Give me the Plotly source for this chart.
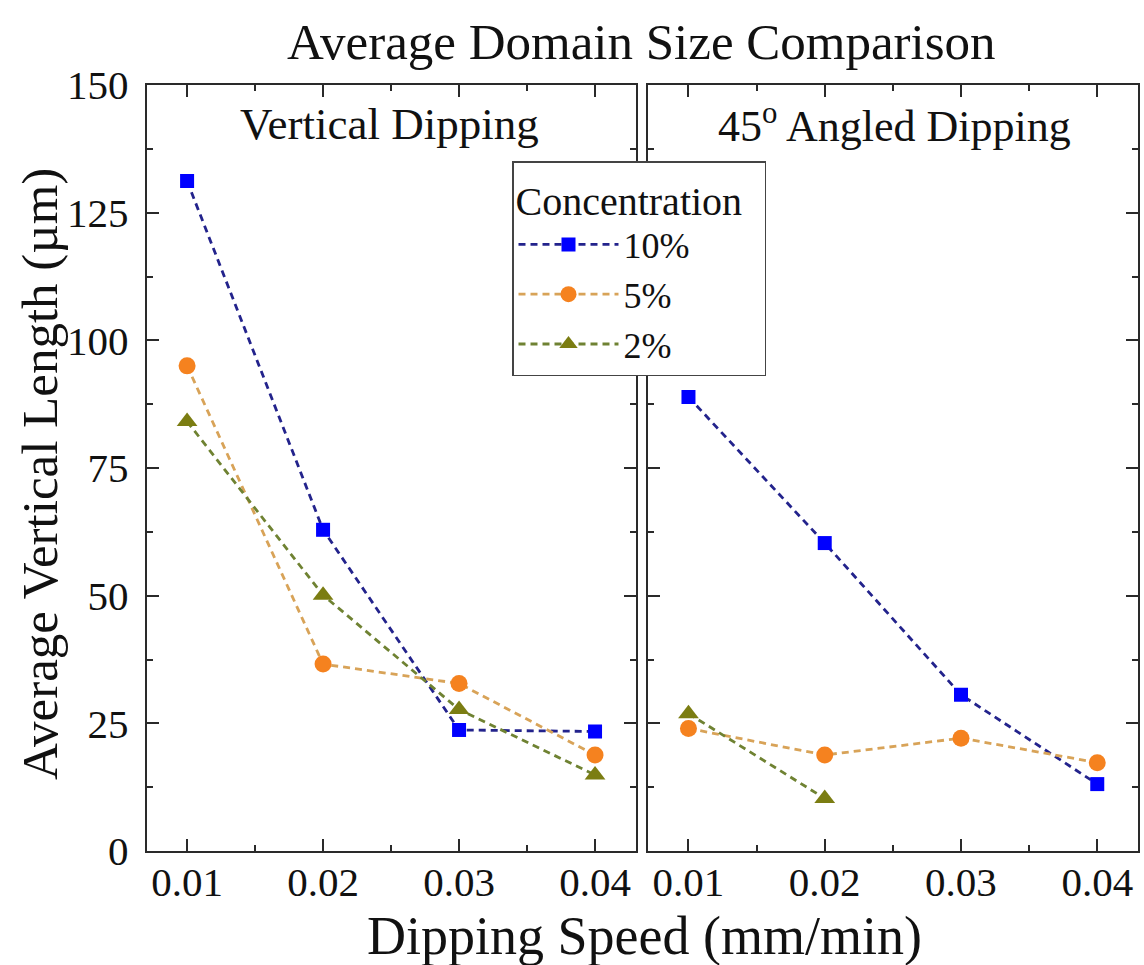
import plotly.graph_objects as go

speeds = [0.01, 0.02, 0.03, 0.04]
speeds_2pct_angled = [0.01, 0.02]

vert_10 = [131.2, 62.9, 23.7, 23.4]
vert_5 = [95.0, 36.6, 32.8, 18.8]
vert_2 = [84.1, 50.1, 27.7, 14.9]

ang_10 = [88.9, 60.3, 30.6, 13.1]
ang_5 = [24.0, 18.8, 22.1, 17.3]
ang_2 = [26.9, 10.3]

series_names = ["10%", "5%", "2%"]
x_ticks = [0.01, 0.02, 0.03, 0.04]
x_tick_text = ["0.01", "0.02", "0.03", "0.04"]
y_ticks = [0, 25, 50, 75, 100, 125, 150]

FONT = "Liberation Serif"
line_cols = ["#23238c", "#d8a358", "#6f8232"]
mark_cols = ["#0000ff", "#f5821f", "#7b7d12"]
symbols = ["square", "circle", "triangle-up"]
msizes = [14, 17, 18]

fig = go.Figure()

left_data = [vert_10, vert_5, vert_2]
right_x = [speeds, speeds, speeds_2pct_angled]
right_data = [ang_10, ang_5, ang_2]

for i in range(3):
    fig.add_trace(go.Scatter(
        x=speeds, y=left_data[i], mode="lines+markers", name=series_names[i],
        line=dict(color=line_cols[i], width=2.8, dash="7px,5px"),
        marker=dict(symbol=symbols[i], size=msizes[i], color=mark_cols[i]),
        xaxis="x", yaxis="y", legendgroup=series_names[i], showlegend=True))
for i in range(3):
    fig.add_trace(go.Scatter(
        x=right_x[i], y=right_data[i], mode="lines+markers", name=series_names[i],
        line=dict(color=line_cols[i], width=2.8, dash="7px,5px"),
        marker=dict(symbol=symbols[i], size=msizes[i], color=mark_cols[i]),
        xaxis="x2", yaxis="y2", legendgroup=series_names[i], showlegend=False))

W, H = 1144, 965
ax_common = dict(
    showline=True, linecolor="#2a2a2a", linewidth=2, mirror="allticks",
    ticks="inside", ticklen=12, tickwidth=2, tickcolor="#2a2a2a",
    showgrid=False, zeroline=False, automargin=False,
    tickfont=dict(family=FONT, size=41, color="#111111"),
)
xaxis_common = dict(ax_common, range=[0.00703, 0.04299], tickvals=x_ticks, ticktext=x_tick_text,
                    ticklabelstandoff=-6,
                    minor=dict(ticks="inside", ticklen=6, tickwidth=2, tickcolor="#2a2a2a", dtick=0.005, tick0=0.005))
yaxis_common = dict(ax_common, range=[0, 150], tickvals=y_ticks, ticklabelstandoff=8,
                    minor=dict(ticks="inside", ticklen=6, tickwidth=2, tickcolor="#2a2a2a", dtick=12.5, tick0=0))

y_dom = [1 - 851 / H, 1 - 85 / H]
fig.update_layout(
    width=W, height=H,
    margin=dict(l=0, r=0, t=0, b=0),
    paper_bgcolor="white", plot_bgcolor="white",
    xaxis=dict(xaxis_common, domain=[146.7 / W, 635.7 / W], anchor="y"),
    yaxis=dict(yaxis_common, domain=y_dom, anchor="x"),
    xaxis2=dict(xaxis_common, domain=[648 / W, 1138 / W], anchor="y2"),
    yaxis2=dict(yaxis_common, domain=y_dom, anchor="x2", showticklabels=False),
    showlegend=True,
    legend=dict(
        x=512 / W, y=1 - 161 / H, xanchor="left", yanchor="top",
        bgcolor="white", bordercolor="#444444", borderwidth=1.5,
        font=dict(family=FONT, size=36, color="#111111"),
        title=dict(text="Concentration&nbsp;&nbsp;", font=dict(family=FONT, size=40, color="#111111")),
        tracegroupgap=0, itemwidth=100,
    ),
    annotations=[
        dict(text="Average Domain Size Comparison", x=641 / W, y=1 - 42 / H, xref="paper", yref="paper",
             showarrow=False, font=dict(family=FONT, size=51, color="#111111"), xanchor="center", yanchor="middle"),
        dict(text="Vertical Dipping", x=390 / W, y=1 - 124 / H, xref="paper", yref="paper",
             showarrow=False, font=dict(family=FONT, size=45, color="#111111"), xanchor="center", yanchor="middle"),
        dict(text="45<sup>o</sup> Angled Dipping", x=895 / W, y=1 - 124 / H, xref="paper", yref="paper",
             showarrow=False, font=dict(family=FONT, size=44, color="#111111"), xanchor="center", yanchor="middle"),
        dict(text="Dipping Speed (mm/min)", x=644 / W, y=1 - 936 / H, xref="paper", yref="paper",
             showarrow=False, font=dict(family=FONT, size=54, color="#111111"), xanchor="center", yanchor="middle"),
        dict(text="Average Vertical Length (µm)", x=40 / W, y=1 - 474 / H, xref="paper", yref="paper",
             textangle=-90, showarrow=False, font=dict(family=FONT, size=51, color="#111111"),
             xanchor="center", yanchor="middle"),
    ],
)

fig.write_html("out.html")
